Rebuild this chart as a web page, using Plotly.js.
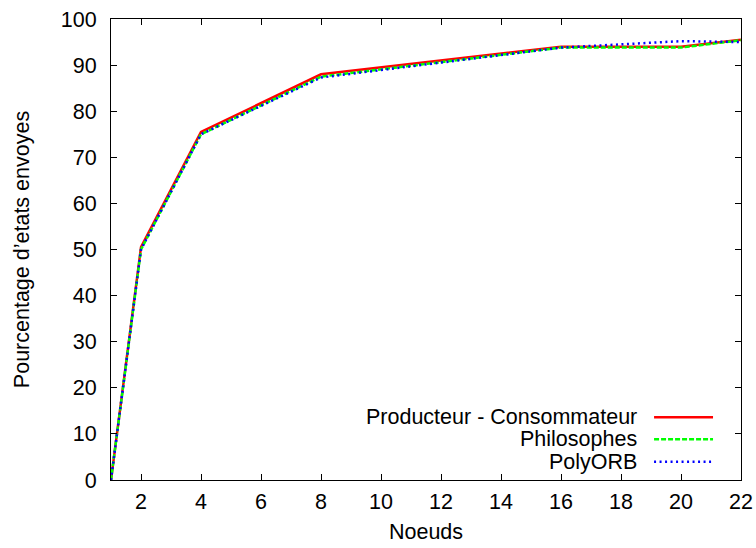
<!DOCTYPE html>
<html>
<head>
<meta charset="utf-8">
<script src="https://cdn.plot.ly/plotly-3.0.1.min.js"></script>
<style>html,body{margin:0;padding:0;background:#fff;}#chart{width:756px;height:548px;}</style>
</head>
<body>
<div id="chart"></div>
<script>
const nodes = [1, 2, 4, 8, 16, 20, 22];
const producteurConsommateur = [0, 50.5, 75.5, 88, 94, 94, 95.5];
const philosophes = [0, 50, 75, 87.5, 93.8, 93.8, 95.4];
const polyORB = [0, 50, 75, 87.3, 93.8, 95.2, 95.0];
const seriesNames = ["Producteur - Consommateur", "Philosophes", "PolyORB"];
const seriesColors = ["#ff0000", "#00ff00", "#0000ff"];
const seriesDash = ["solid", "5px,2px", "2px,3.5px"];
const yTicks = [0, 10, 20, 30, 40, 50, 60, 70, 80, 90, 100];
const xTicks = [2, 4, 6, 8, 10, 12, 14, 16, 18, 20, 22];

const FONT = "Liberation Sans, Arial, Helvetica, sans-serif";
const FS = 21.5;
const allSeries = [producteurConsommateur, philosophes, polyORB];

const traces = allSeries.map((ys, i) => ({
  type: "scatter",
  mode: "lines",
  x: nodes,
  y: ys,
  name: seriesNames[i],
  line: {color: seriesColors[i], width: 2.5, dash: seriesDash[i]},
  showlegend: false,
  hoverinfo: "x+y+name"
}));

// custom gnuplot-style legend (text right-aligned, sample to the right)
const legendRows = [0.136, 0.0885, 0.0397];
const annotations = seriesNames.map((n, i) => ({
  xref: "paper", yref: "paper",
  x: 0.8365, y: legendRows[i],
  xanchor: "right", yanchor: "middle",
  borderpad: 0,
  text: n, showarrow: false,
  font: {family: FONT, size: FS, color: "#000"}
}));
const shapes = seriesNames.map((n, i) => ({
  type: "line", xref: "paper", yref: "paper",
  x0: 0.862, x1: 0.9556, y0: legendRows[i], y1: legendRows[i],
  line: {color: seriesColors[i], width: 2.5, dash: seriesDash[i]}
}));

const axisCommon = {
  showgrid: false,
  zeroline: false,
  showline: true,
  linecolor: "#000",
  linewidth: 1,
  mirror: "allticks",
  ticks: "inside",
  ticklen: 6,
  tickwidth: 1,
  tickcolor: "#000",
  tickfont: {family: FONT, size: FS, color: "#000"},
  automargin: false
};

const layout = {
  width: 756,
  height: 548,
  margin: {l: 111, r: 15, t: 19, b: 68, pad: 0},
  paper_bgcolor: "#fff",
  plot_bgcolor: "#fff",
  font: {family: FONT, size: FS, color: "#000"},
  xaxis: Object.assign({}, axisCommon, {
    range: [1, 22],
    tickmode: "array",
    tickvals: xTicks,
    ticktext: xTicks.map(String),
    ticklabelstandoff: 2,
    title: {text: "Noeuds", font: {family: FONT, size: FS, color: "#000"}, standoff: 11}
  }),
  yaxis: Object.assign({}, axisCommon, {
    range: [0, 100],
    tickmode: "array",
    tickvals: yTicks,
    ticktext: yTicks.map(String),
    ticklabelstandoff: 9,
    title: {text: "Pourcentage d’etats envoyes", font: {family: FONT, size: FS, color: "#000"}, standoff: 25}
  }),
  annotations: annotations,
  shapes: shapes,
  showlegend: false
};

Plotly.newPlot("chart", traces, layout, {displayModeBar: false, staticPlot: true});
</script>
</body>
</html>
